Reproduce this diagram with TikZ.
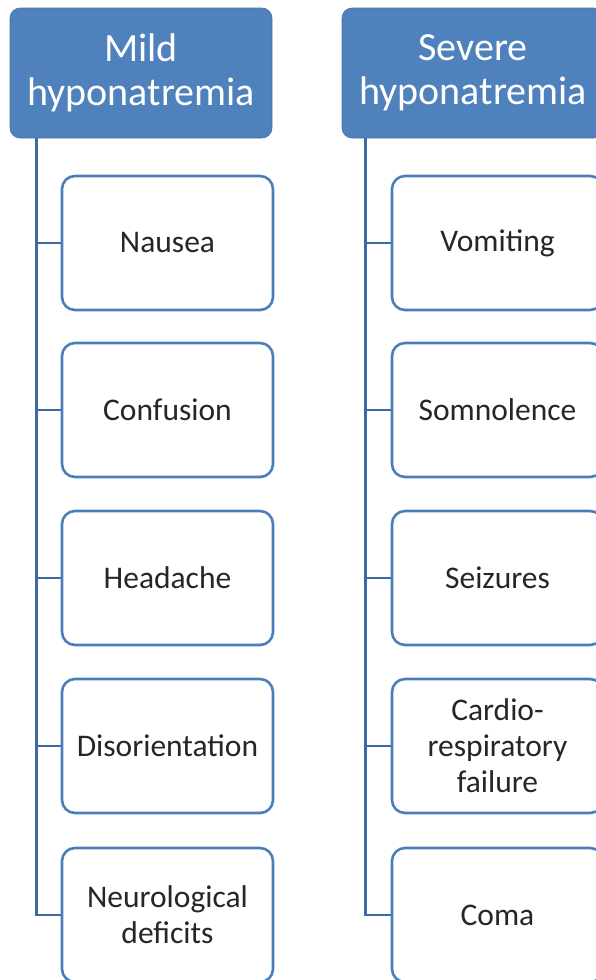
\documentclass[tikz,border=0pt]{standalone}
\usepackage{fontspec}
\setmainfont{Carlito}
\usepackage{tikz}
\usetikzlibrary{calc}

\definecolor{headblue}{HTML}{4F81BD}
\definecolor{edgeblue}{HTML}{4A7EBB}
\definecolor{spineblue}{HTML}{3C6BA3}
\definecolor{textgray}{HTML}{262626}

\tikzset{
	header/.style={fill=headblue, draw=headblue!90!black, line width=0.6pt, rounded corners=10pt,
		minimum width=262pt, minimum height=130pt, inner sep=0pt, align=center,
		text=white, font=\fontsize{40}{44}\selectfont},
	item/.style={fill=white, draw=edgeblue, line width=2.6pt, rounded corners=13pt,
		minimum width=211pt, minimum height=134pt, inner sep=0pt, align=center,
		text=textgray, font=\fontsize{31.5}{36}\selectfont},
	spine/.style={draw=spineblue, line width=2.6pt}
}

\begin{document}
\begin{tikzpicture}[x=1pt, y=-1pt]
		\useasboundingbox (0,0) rectangle (596,980);

		\begin{scope}
			\node [header] (mild) at (141,73) {Mild\\hyponatremia};
			\node [header] (severe) at (473,73) {Severe\\hyponatremia};
		\end{scope}

		\begin{scope}
			\coordinate (mildspine) at ($ (mild.south west) + (27,0) $);
			\coordinate (severespine) at ($ (severe.south west) + (24,0) $);
		\end{scope}

		\begin{scope}
			\node [item] (nausea) at (167.5,243) {Nausea};
			\node [item] (confusion) at (167.5,410) {Confusion};
			\node [item] (headache) at (167.5,578) {Headache};
			\node [item] (disorient) at (167.5,746) {Disorientation};
			\node [item] (neuro) at (167.5,915) {Neurological\\deficits};
		\end{scope}

		\begin{scope}
			\node [item] (vomiting) at (497.5,243) {Vomiting};
			\node [item] (somnolence) at (497.5,410) {Somnolence};
			\node [item] (seizures) at (497.5,578) {Seizures};
			\node [item] (cardio) at (497.5,746) {Cardio-\\respiratory\\failure};
			\node [item] (coma) at (497.5,915) {Coma};
		\end{scope}

		\begin{scope}[spine]
			\draw (mildspine) |- (neuro.west);
			\draw (nausea.west) -- (nausea.west -| mildspine);
			\draw (confusion.west) -- (confusion.west -| mildspine);
			\draw (headache.west) -- (headache.west -| mildspine);
			\draw (disorient.west) -- (disorient.west -| mildspine);

			\draw (severespine) |- (coma.west);
			\draw (vomiting.west) -- (vomiting.west -| severespine);
			\draw (somnolence.west) -- (somnolence.west -| severespine);
			\draw (seizures.west) -- (seizures.west -| severespine);
			\draw (cardio.west) -- (cardio.west -| severespine);
		\end{scope}
	\end{tikzpicture}
\end{document}
